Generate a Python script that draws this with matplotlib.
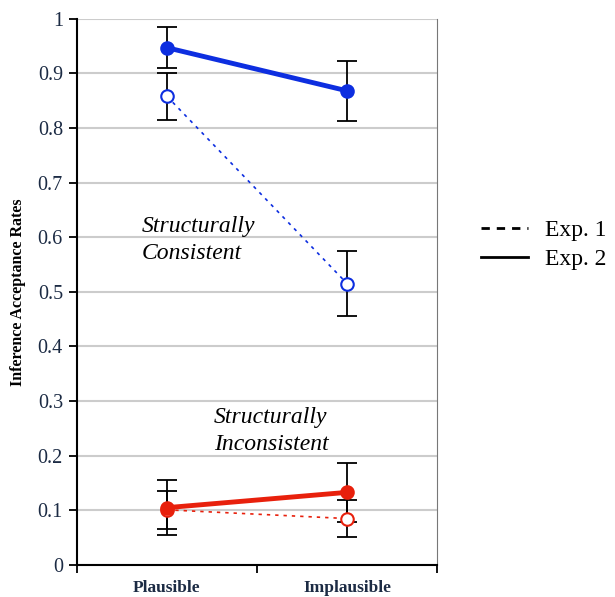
import matplotlib.pyplot as plt
from matplotlib.lines import Line2D

plt.rcParams['font.family'] = ['Liberation Serif', 'DejaVu Serif']

conditions = ['Plausible', 'Implausible']

# structurally consistent
cons_exp2 = [0.947, 0.868]
cons_exp2_err = [0.038, 0.055]
cons_exp1 = [0.858, 0.515]
cons_exp1_err = [0.043, 0.059]

# structurally inconsistent
incons_exp2 = [0.105, 0.133]
incons_exp2_err = [0.050, 0.054]
incons_exp1 = [0.101, 0.085]
incons_exp1_err = [0.035, 0.034]

blue = '#0d2ee0'
red = '#e8200c'
xpos = [0.5, 1.5]

fig = plt.figure(figsize=(6.15, 5.97), dpi=100)
ax = fig.add_axes([0.125, 0.0536, 0.586, 0.915])

def series(y, err, color, filled, ls, lw):
    ax.errorbar(xpos, y, yerr=err, fmt='none', ecolor='black', elinewidth=1.3,
                capsize=7, capthick=1.3, zorder=3)
    ax.plot(xpos, y, ls=ls, color=color, lw=lw, marker='o', markersize=9,
            markerfacecolor=color if filled else 'white',
            markeredgecolor=color, markeredgewidth=1.5, zorder=4)

series(cons_exp1, cons_exp1_err, blue, False, (0, (2, 3)), 1.2)
series(cons_exp2, cons_exp2_err, blue, True, '-', 3.5)
series(incons_exp1, incons_exp1_err, red, False, (0, (2, 3)), 1.2)
series(incons_exp2, incons_exp2_err, red, True, '-', 3.5)

ax.set_xlim(0, 2)
ax.set_ylim(0, 1)
ax.set_yticks([i / 10 for i in range(11)])
ax.set_yticklabels(['0'] + [f'0.{i}' for i in range(1, 10)] + ['1'],
                   fontsize=14.5, color='#1c2b44')
ax.set_xticks([0, 1, 2])
ax.set_xticklabels([])
ax.tick_params(axis='y', length=6, width=1.3, direction='out', pad=4)
ax.tick_params(axis='x', length=6, width=1.3, direction='out')
for i, c in enumerate(conditions):
    ax.text(xpos[i], -0.043, c, ha='center', va='center', fontsize=12.5,
            fontweight='bold', color='#1c2b44')

ax.grid(axis='y', color='#cccccc', lw=1.5)
ax.set_axisbelow(True)
ax.spines['top'].set_visible(False)
ax.spines['right'].set_color('#777777')
ax.spines['left'].set_linewidth(1.5)
ax.spines['bottom'].set_linewidth(1.5)

ax.set_ylabel('Inference Acceptance Rates', fontsize=11.5, fontweight='bold')
ax.yaxis.set_label_coords(-0.14, 0.5)

ax.text(0.36, 0.595, 'Structurally\nConsistent', fontsize=17, style='italic',
        ha='left', va='center', linespacing=1.35)
ax.text(0.76, 0.245, 'Structurally\nInconsistent', fontsize=17, style='italic',
        ha='left', va='center', linespacing=1.35)

handles = [Line2D([], [], color='black', lw=2, ls=(0, (3, 2.5))),
           Line2D([], [], color='black', lw=2, ls='-')]
fig.legend(handles, ['Exp. 1', 'Exp. 2'], loc='center left',
           bbox_to_anchor=(0.748, 0.59), frameon=False, fontsize=17,
           handlelength=2.0, handletextpad=0.7, labelspacing=0.3)

fig.savefig('out.png', dpi=100)
